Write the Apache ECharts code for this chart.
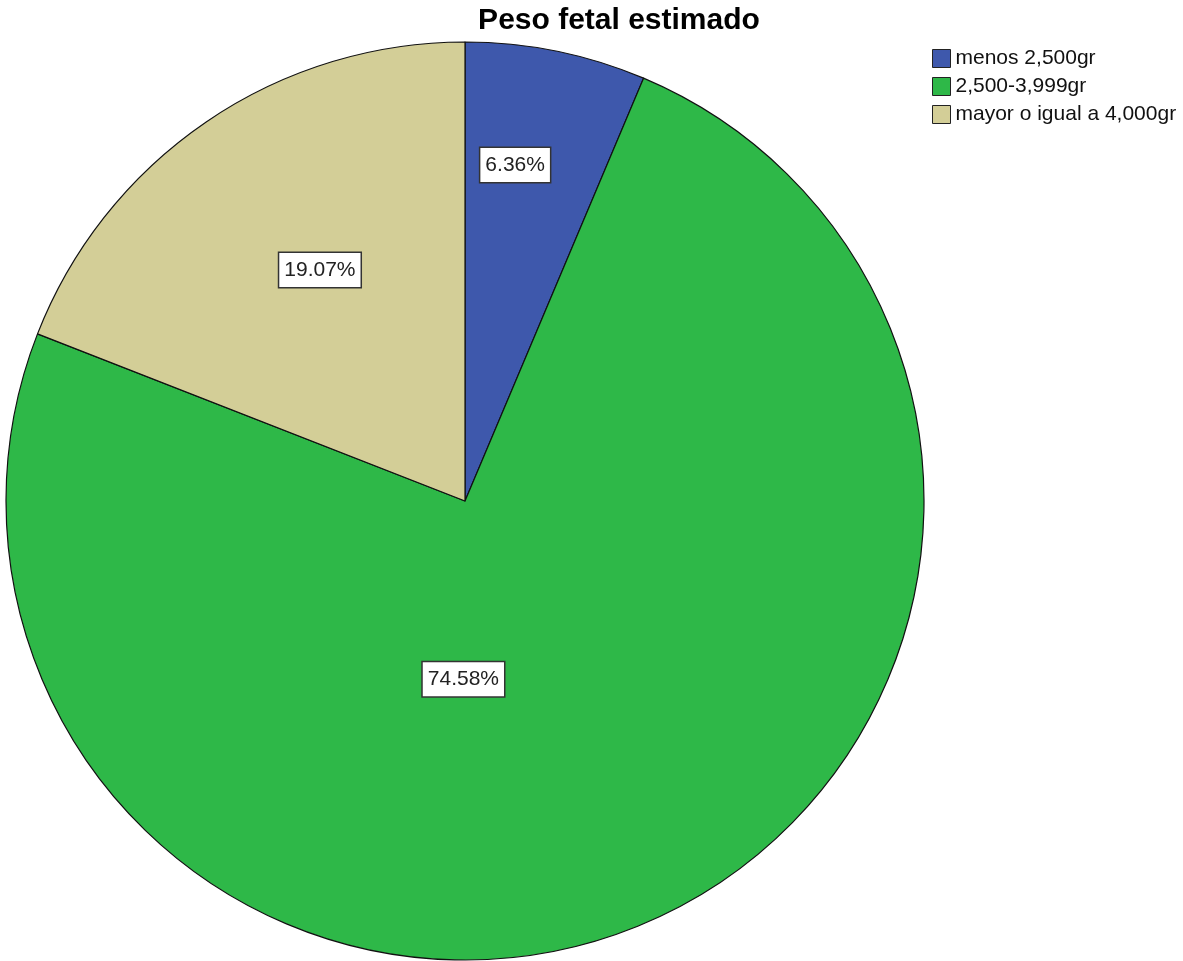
<!DOCTYPE html>
<html lang="es">
<head>
    <meta charset="UTF-8">
    <title>Peso fetal estimado</title>
    <style>
        * { padding: 0; margin: 0; box-sizing: border-box; }
        html, body, #chart-container { width: 100%; height: 100%; background: #fff; }
    </style>
</head>
<body>
    <div id="chart-container"></div>
    <script src="https://cdn.jsdelivr.net/npm/echarts@6/dist/echarts.min.js"></script>
    <script>
        // categorias y porcentajes
        const categories = ['menos 2,500gr', '2,500-3,999gr', 'mayor o igual a 4,000gr']
        const percents = [6.36, 74.58, 19.07]
        const colors = ['#3E58AC', '#2EB848', '#D3CE97']

        // desplazamiento de las etiquetas respecto a la posicion 'inside'
        const labelShift = [[4, -108], [-92, -36], [-14, -39]]

        const chart = echarts.init(document.getElementById('chart-container'))

        const option = {
            backgroundColor: '#fff',
            animation: false,
            title: {
                text: 'Peso fetal estimado',
                left: 614,
                textAlign: 'center',
                top: 1,
                textStyle: {
                    fontFamily: 'Liberation Sans',
                    fontSize: 30,
                    fontWeight: 'bold',
                    color: '#000'
                }
            },
            legend: {
                orient: 'vertical',
                left: 927,
                top: 43,
                itemWidth: 18,
                itemHeight: 18,
                itemGap: 7,
                icon: 'rect',
                itemStyle: { borderColor: '#222', borderWidth: 1 },
                textStyle: {
                    fontFamily: 'Liberation Sans',
                    fontSize: 21,
                    color: '#111'
                },
                data: categories
            },
            series: [{
                type: 'pie',
                center: [465, 501],
                radius: 459,
                startAngle: 90,
                clockwise: true,
                silent: true,
                itemStyle: { borderColor: '#111', borderWidth: 1.2 },
                label: {
                    show: true,
                    position: 'inside',
                    formatter: '{c}%',
                    fontFamily: 'Liberation Sans',
                    fontSize: 21,
                    color: '#222',
                    backgroundColor: '#fff',
                    borderColor: '#333',
                    borderWidth: 1.5,
                    padding: [7, 5, 6, 5]
                },
                labelLayout: function (params) {
                    const s = labelShift[params.dataIndex]
                    return { dx: s[0], dy: s[1] }
                },
                data: categories.map((name, i) => ({
                    name: name,
                    value: percents[i],
                    itemStyle: { color: colors[i] }
                }))
            }]
        }

        chart.setOption(option)
    </script>
</body>
</html>
